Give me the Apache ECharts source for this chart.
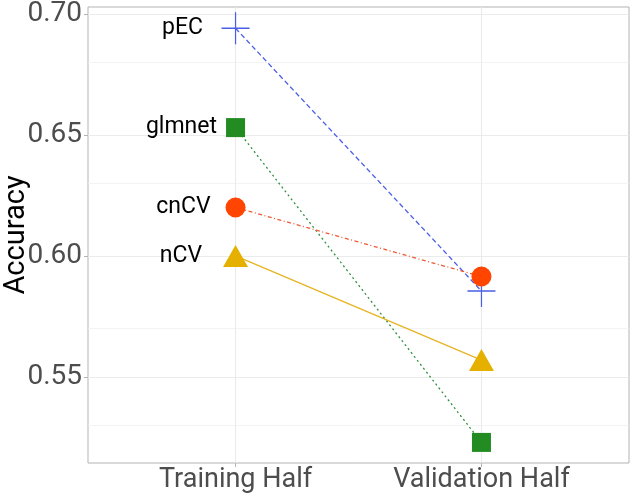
<!DOCTYPE html>
<html>
<head>
<meta charset="utf-8">
<script src="https://cdn.jsdelivr.net/npm/echarts@6/dist/echarts.min.js"></script>
<style>html,body{margin:0;padding:0;background:#fff}#c{width:633px;height:502px}</style>
</head>
<body>
<div id="c"></div>
<script>
var categories = ['Training Half', 'Validation Half'];
var xPositions = [1, 2];
var methods = ['pEC', 'glmnet', 'cnCV', 'nCV'];
var pEC = [0.694, 0.5855];
var glmnet = [0.653, 0.523];
var cnCV = [0.620, 0.5915];
var nCV = [0.600, 0.557];
var yTicks = [0.55, 0.60, 0.65, 0.70];
var yMinor = [0.525, 0.575, 0.625, 0.675];

var values = { pEC: pEC, glmnet: glmnet, cnCV: cnCV, nCV: nCV };
var styles = {
  pEC:    { symbol: 'path://M14,0L14,32M0,16L28,16', size: [28, 32], color: '#4a5ee6', line: '#4a5ee6', type: [5, 3], fill: 'transparent', border: 1.3, dist: 18 },
  glmnet: { symbol: 'rect', size: 19, color: '#228b22', line: '#2f8f40', type: [2, 3], fill: '#228b22', border: 0, dist: 9 },
  cnCV:   { symbol: 'circle', size: 20, color: '#ff4500', line: '#ee5a36', type: [1, 2.5, 4, 2.5], fill: '#ff4500', border: 0, dist: 15 },
  nCV:    { symbol: 'triangle', size: [25, 22], color: '#e6b000', line: '#e6b422', type: 'solid', fill: '#e6b000', border: 0, dist: 21 }
};

var gridLines = [];
yTicks.forEach(function (v) { gridLines.push({ yAxis: v, lineStyle: { color: '#ebebeb', width: 1.1, type: 'solid' } }); });
yMinor.forEach(function (v) { gridLines.push({ yAxis: v, lineStyle: { color: '#f0f0f0', width: 0.8, type: 'solid' } }); });
xPositions.forEach(function (v) { gridLines.push({ xAxis: v, lineStyle: { color: '#ebebeb', width: 1.1, type: 'solid' } }); });

var series = [{
  type: 'line', data: [], silent: true, z: 1,
  markLine: { z: 1, silent: true, symbol: ['none', 'none'], label: { show: false }, data: gridLines, animation: false }
}];

methods.forEach(function (m) {
  var s = styles[m];
  var vals = values[m];
  series.push({
    type: 'line', name: m, z: 3,
    symbol: s.symbol, symbolSize: s.size,
    lineStyle: { color: s.line, width: 1.3, type: s.type },
    itemStyle: { color: s.fill, borderColor: s.color, borderWidth: s.border },
    data: vals.map(function (v, i) {
      var d = { value: [xPositions[i], v] };
      if (i === 0) {
        d.label = { show: true, position: 'left', distance: s.dist, formatter: m,
          fontFamily: 'Roboto', fontSize: 23, color: '#000' };
      }
      return d;
    })
  });
});

var chart = echarts.init(document.getElementById('c'));
chart.setOption({
  animation: false,
  backgroundColor: '#fff',
  grid: { left: 88, right: 4, top: 7, bottom: 39, show: true, borderColor: '#b3b3b3', borderWidth: 1, backgroundColor: 'transparent', containLabel: false, outerBoundsMode: 'none' },
  xAxis: {
    type: 'value', min: 0.4, max: 2.6,
    axisLine: { show: false },
    splitLine: { show: false },
    axisTick: { show: true, length: 4, lineStyle: { color: '#b3b3b3' }, customValues: xPositions },
    axisLabel: { customValues: xPositions, margin: 4, fontFamily: 'Roboto', fontSize: 27, color: '#4d4d4d',
      formatter: function (v) { var i = xPositions.indexOf(v); return i >= 0 ? categories[i] : ''; } }
  },
  yAxis: {
    type: 'value', min: 0.5145, max: 0.7028,
    name: 'Accuracy', nameLocation: 'middle', nameGap: 57, nameMoveOverlap: false,
    nameTextStyle: { fontFamily: 'Roboto', fontSize: 29, color: '#000' },
    axisLine: { show: false },
    splitLine: { show: false },
    axisTick: { show: true, length: 4, lineStyle: { color: '#b3b3b3' }, customValues: yTicks },
    axisLabel: { customValues: yTicks, margin: 6, fontFamily: 'Roboto', fontSize: 28, color: '#4d4d4d',
      formatter: function (v) { return v.toFixed(2); } }
  },
  series: series
});
</script>
</body>
</html>
